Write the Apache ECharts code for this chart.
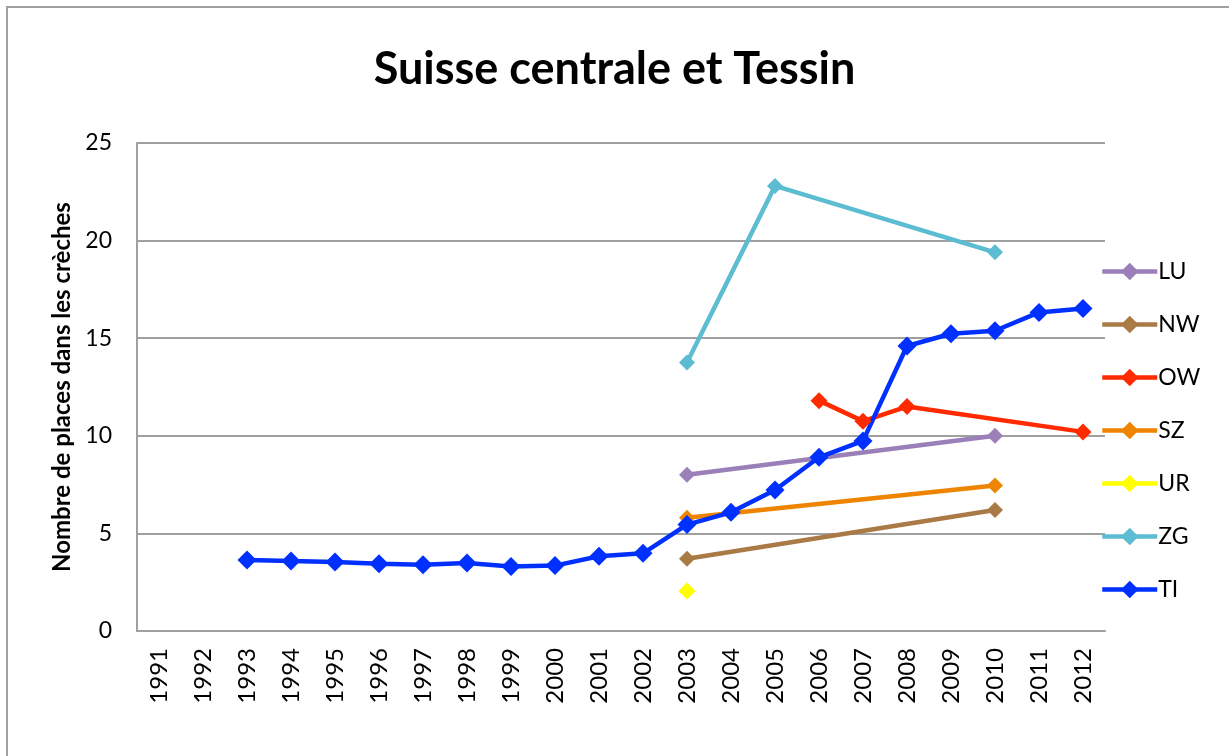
<!DOCTYPE html>
<html>
<head>
<meta charset="utf-8">
<script src="https://cdn.jsdelivr.net/npm/echarts@6/dist/echarts.min.js"></script>
<style>
  html, body { margin: 0; padding: 0; background: #fff; }
  #chart { width: 1229px; height: 756px; }
</style>
</head>
<body>
<div id="chart"></div>
<script>
// années
const years = ['1991', '1992', '1993', '1994', '1995', '1996', '1997', '1998', '1999', '2000', '2001',
  '2002', '2003', '2004', '2005', '2006', '2007', '2008', '2009', '2010', '2011', '2012']

// places pour 100 enfants
const lu = [null, null, null, null, null, null, null, null, null, null, null, null, 8.0, null, null, null, null, null, null, 10.0, null, null]
const nw = [null, null, null, null, null, null, null, null, null, null, null, null, 3.7, null, null, null, null, null, null, 6.2, null, null]
const ow = [null, null, null, null, null, null, null, null, null, null, null, null, null, null, null, 11.8, 10.75, 11.5, null, null, null, 10.2]
const sz = [null, null, null, null, null, null, null, null, null, null, null, null, 5.8, null, null, null, null, null, null, 7.45, null, null]
const ur = [null, null, null, null, null, null, null, null, null, null, null, null, 2.05, null, null, null, null, null, null, null, null, null]
const zg = [null, null, null, null, null, null, null, null, null, null, null, null, 13.75, null, 22.8, null, null, null, null, 19.4, null, null]
const ti = [null, null, 3.64, 3.58, 3.53, 3.44, 3.39, 3.48, 3.3, 3.35, 3.83, 3.98, 5.45, 6.08, 7.22, 8.9, 9.74, 14.6, 15.23, 15.38, 16.32, 16.52]

const yTicks = [0, 5, 10, 15, 20, 25]

const font = 'Lato, "Open Sans", sans-serif'

const chart = echarts.init(document.getElementById('chart'))

function line (name, data, color, size) {
  return {
    name: name,
    type: 'line',
    data: data,
    connectNulls: true,
    symbol: 'diamond',
    symbolSize: size,
    lineStyle: { color: color, width: 4.5 },
    itemStyle: { color: color },
    emphasis: { disabled: true }
  }
}

chart.setOption({
  animation: false,
  textStyle: { fontFamily: font },
  title: {
    text: 'Suisse centrale et Tessin',
    left: 'center',
    top: 42,
    textStyle: {
      fontSize: 45,
      fontWeight: 'bold',
      color: '#000',
      fontFamily: font
    }
  },
  legend: {
    orient: 'vertical',
    left: 1095,
    top: 255,
    itemGap: 30,
    itemWidth: 55,
    itemHeight: 22,
    lineStyle: { width: 4.5 },
    textStyle: { fontSize: 23, color: '#000', padding: [0, 0, 0, -4] },
    data: ['LU', 'NW', 'OW', 'SZ', 'UR', 'ZG', 'TI']
  },
  graphic: [
    {
      type: 'rect',
      shape: { x: 7, y: 7, width: 1240, height: 770 },
      style: { fill: 'none', stroke: '#a0a0a0', lineWidth: 2 },
      silent: true
    }
  ],
  grid: {
    left: 137,
    right: 124,
    top: 143,
    bottom: 125
  },
  xAxis: {
    type: 'category',
    data: years,
    boundaryGap: true,
    axisLine: { show: true, lineStyle: { color: '#a0a0a0', width: 2 } },
    axisTick: { show: false },
    axisLabel: {
      rotate: 90,
      color: '#000',
      fontSize: 24,
      margin: 17,
      interval: 0
    }
  },
  yAxis: {
    type: 'value',
    min: yTicks[0],
    max: yTicks[yTicks.length - 1],
    interval: 5,
    name: 'Nombre de places dans les crèches',
    nameLocation: 'middle',
    nameGap: 62,
    nameTextStyle: { fontSize: 24, fontWeight: 'bold', color: '#000' },
    axisLine: { show: true, lineStyle: { color: '#a0a0a0', width: 2 } },
    axisTick: { show: false },
    axisLabel: { color: '#000', fontSize: 23, margin: 25 },
    splitLine: { show: true, lineStyle: { color: '#a0a0a0', width: 2 } }
  },
  series: [
    line('LU', lu, '#9a7fb8', 16),
    line('NW', nw, '#a97a45', 16),
    line('OW', ow, '#ff2a00', 17),
    line('SZ', sz, '#ee8400', 16),
    line('UR', ur, '#ffff00', 17),
    line('ZG', zg, '#5bbcd2', 16),
    line('TI', ti, '#0030ff', 19)
  ]
})
</script>
</body>
</html>
